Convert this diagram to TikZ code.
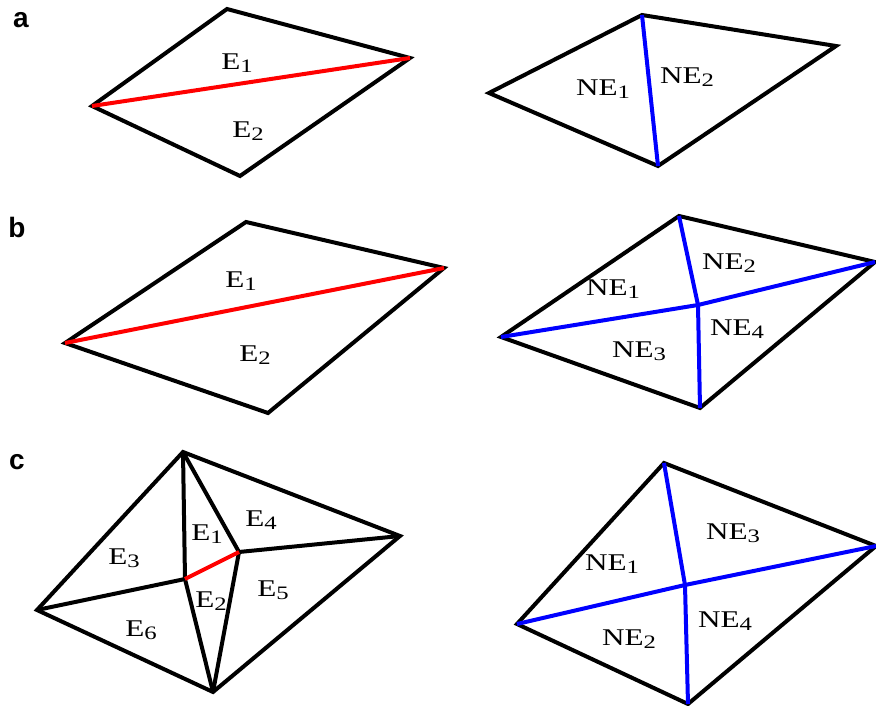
\documentclass[tikz,border=0pt]{standalone}
\usepackage{fontspec}
\setmainfont{Liberation Serif}
\setsansfont{Liberation Sans}
\newfontfamily\labelfont[FakeStretch=1.3]{Liberation Serif}
\usetikzlibrary{positioning}
\definecolor{cutred}{HTML}{FF0000}
\definecolor{splitblue}{HTML}{0000FF}
\newcommand{\idx}[1]{\raisebox{-3.5pt}{\fontsize{19}{19}\selectfont#1}}

\begin{document}
\begin{tikzpicture}[
  x=1pt,y=-1pt,
  font=\labelfont\fontsize{24}{28}\selectfont,
  edge/.style={draw=black,line width=4pt},
  cut/.style={draw=cutred,line width=4pt},
  split/.style={draw=splitblue,line width=4pt},
  lbl/.style={inner sep=0pt},
  panel/.style={font=\sffamily\bfseries\fontsize{28}{32}\selectfont,inner sep=0pt}
]
\useasboundingbox (0,0) rectangle (876,706);

% panel a
\node[panel] (pa) at (21,20) {a};
\coordinate (a1t) at (227,9);
\coordinate (a1r) at (410,58);
\coordinate (a1b) at (240,176);
\coordinate (a1l) at (92,106);
\draw[edge] (a1l) -- (a1t) -- (a1r) -- (a1b) -- cycle;
\draw[cut] (a1l) -- (a1r);
\node[lbl] (ae1) at (237,63) {E\idx{1}};
\node[lbl] (ae2) at (248,131) {E\idx{2}};

\coordinate (a2t) at (642,15);
\coordinate (a2r) at (836,46);
\coordinate (a2b) at (658,166);
\coordinate (a2l) at (489,93);
\draw[edge] (a2l) -- (a2t) -- (a2r) -- (a2b) -- cycle;
\draw[split] (a2t) -- (a2b);
\node[lbl] (ane1) at (603,89) {NE\idx{1}};
\node[lbl] (ane2) at (687,77) {NE\idx{2}};

% panel b
\node[panel] (pb) at (17,227) {b};
\coordinate (b1t) at (246,222);
\coordinate (b1r) at (444,268);
\coordinate (b1b) at (268,413);
\coordinate (b1l) at (65,343);
\draw[edge] (b1l) -- (b1t) -- (b1r) -- (b1b) -- cycle;
\draw[cut] (b1l) -- (b1r);
\node[lbl] (be1) at (241,281) {E\idx{1}};
\node[lbl] (be2) at (255,355) {E\idx{2}};

\coordinate (b2t) at (679,216);
\coordinate (b2r) at (875,262);
\coordinate (b2b) at (700,408);
\coordinate (b2l) at (501,337);
\coordinate (b2c) at (698,305);
\draw[edge] (b2l) -- (b2t) -- (b2r) -- (b2b) -- cycle;
\draw[split] (b2t) -- (b2c) -- (b2b);
\draw[split] (b2l) -- (b2c) -- (b2r);
\node[lbl] (bne1) at (613,289) {NE\idx{1}};
\node[lbl] (bne2) at (729,263) {NE\idx{2}};
\node[lbl] (bne3) at (639,351) {NE\idx{3}};
\node[lbl] (bne4) at (737,329) {NE\idx{4}};

% panel c
\node[panel] (pc) at (17,462) {c};
\coordinate (c1t) at (183,452);
\coordinate (c1r) at (400,536);
\coordinate (c1b) at (213,692);
\coordinate (c1l) at (37,610);
\coordinate (c1p) at (185,579);
\coordinate (c1q) at (239,552);
\draw[edge] (c1l) -- (c1t) -- (c1r) -- (c1b) -- cycle;
\draw[edge] (c1t) -- (c1p) -- (c1b);
\draw[edge] (c1t) -- (c1q) -- (c1b);
\draw[edge] (c1l) -- (c1p);
\draw[edge] (c1q) -- (c1r);
\draw[cut] (c1p) -- (c1q);
\node[lbl] (ce1) at (207,534) {E\idx{1}};
\node[lbl] (ce2) at (211,601) {E\idx{2}};
\node[lbl] (ce3) at (124,558) {E\idx{3}};
\node[lbl] (ce4) at (261,520) {E\idx{4}};
\node[lbl] (ce5) at (273,590) {E\idx{5}};
\node[lbl] (ce6) at (141,630) {E\idx{6}};

\coordinate (c2t) at (664,463);
\coordinate (c2r) at (876,546);
\coordinate (c2b) at (688,704);
\coordinate (c2l) at (517,624);
\coordinate (c2c) at (685,585);
\draw[edge] (c2l) -- (c2t) -- (c2r) -- (c2b) -- cycle;
\draw[split] (c2t) -- (c2c) -- (c2b);
\draw[split] (c2l) -- (c2c) -- (c2r);
\node[lbl] (cne1) at (612,564) {NE\idx{1}};
\node[lbl] (cne2) at (629,639) {NE\idx{2}};
\node[lbl] (cne3) at (733,533) {NE\idx{3}};
\node[lbl] (cne4) at (725,621) {NE\idx{4}};
\end{tikzpicture}
\end{document}
